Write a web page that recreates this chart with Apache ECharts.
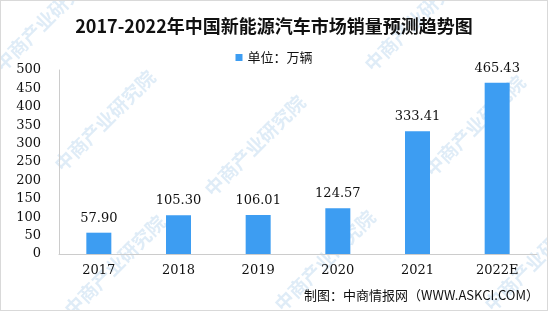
<!DOCTYPE html>
<html><head><meta charset="utf-8">
<script src="https://cdn.jsdelivr.net/npm/echarts@6/dist/echarts.min.js"></script>
<style>html,body{margin:0;padding:0;background:#fff}#c{width:548px;height:311px;box-sizing:border-box;border:1px solid #d9d9d9}</style>
</head><body><div id="c"></div>
<script>
const categories = ['2017','2018','2019','2020','2021','2022E'];
const sales = [57.90, 105.30, 106.01, 124.57, 333.41, 465.43];
const yTicks = [0, 50, 100, 150, 200, 250, 300, 350, 400, 450, 500];

const chart = echarts.init(document.getElementById('c'));
const wm = [];
[[-10,60],[50,160],[200,185],[420,165],[360,60],[60,305],[270,300],[480,300]].forEach(p=>{
  wm.push({type:'text', x:p[0], y:p[1], rotation:Math.PI/4, z:-1, silent:true,
    style:{text:'中商产业研究院', fill:'rgba(140,185,225,0.28)', font:'bold 19px "Noto Sans CJK SC"'}});
});
chart.setOption({
  animation:false,
  title:{text:'2017-2022年中国新能源汽车市场销量预测趋势图', left:'center', top:11,
    textStyle:{fontSize:18, fontWeight:'bold', color:'#111', fontFamily:'"Noto Sans CJK SC"'}},
  legend:{data:['单位：万辆'], top:45, left:'center', itemWidth:7, itemHeight:7, icon:'rect',
    textStyle:{fontSize:13, color:'#111', fontFamily:'"Noto Sans CJK SC"'}},
  graphic: wm.concat([{type:'text', right:8, top:288,
    style:{text:'制图：中商情报网（WWW.ASKCI.COM）', fill:'#111', font:'13px "Noto Sans CJK SC"'}}]),
  grid:{left:58, right:10, top:69, bottom:56},
  xAxis:{type:'category', data:categories,
    axisLine:{lineStyle:{color:'#cccccc'}}, axisTick:{lineStyle:{color:'#cccccc'}},
    axisLabel:{fontSize:13, color:'#111', margin:10, fontFamily:'"DejaVu Serif"'}},
  yAxis:{type:'value', min:0, max:500, interval:50,
    axisLine:{show:true, lineStyle:{color:'#cccccc'}}, axisTick:{show:false}, splitLine:{show:false},
    axisLabel:{fontSize:13, color:'#111', margin:18, fontFamily:'"DejaVu Serif"',
      formatter:v=>yTicks.includes(v)?String(v):''}},
  series:[{name:'单位：万辆', type:'bar', data:sales, barWidth:25,
    itemStyle:{color:'#3d9df2'},
    label:{show:true, position:'top', distance:8, fontSize:13, color:'#111', fontFamily:'"DejaVu Serif"',
      formatter:p=>p.value.toFixed(2)}}]
});
</script></body></html>
